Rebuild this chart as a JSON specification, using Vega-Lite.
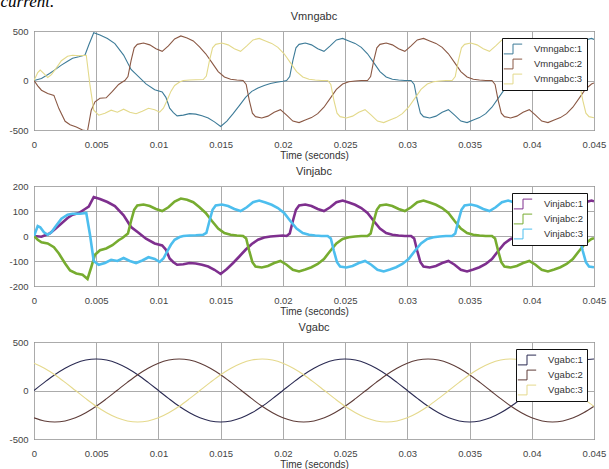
{
"$schema": "https://vega.github.io/schema/vega-lite/v6.json",
"padding": {"left": 0, "top": -8, "right": 0, "bottom": 0},
"background": "#ffffff",
"title": {"text": "current.", "anchor": "start", "frame": "bounds", "font": "Liberation Serif", "fontStyle": "italic", "fontSize": 17, "fontWeight": "normal", "color": "#000000", "offset": 0, "dx": -8},
"config": {
 "font": "Liberation Sans",
 "view": {"stroke": "#333333", "strokeWidth": 1},
 "axis": {"domain": false, "ticks": false, "grid": true, "gridColor": "#ababab", "gridWidth": 1, "labelFont": "Liberation Sans", "labelFontSize": 9.5, "labelColor": "#444444", "labelFlush": false, "labelOverlap": false, "titleFont": "Liberation Sans", "titleFontSize": 10, "titleFontWeight": "normal", "titleColor": "#333333"},
 "axisX": {"labelPadding": 9, "titlePadding": 2},
 "axisY": {"labelPadding": 6},
 "title": {"font": "Liberation Sans", "fontSize": 11, "fontWeight": "normal", "color": "#333333", "offset": 4},
 "legend": {"orient": "top-right", "offset": 7, "strokeColor": "#111111", "fillColor": "#ffffff", "padding": 4, "rowPadding": 1, "labelFont": "Liberation Sans", "labelFontSize": 9.5, "labelColor": "#333333", "labelOffset": 14, "symbolType": "M-1.5,0.8H0V-0.8H1.5", "symbolSize": 150, "symbolStrokeWidth": 1, "symbolFillColor": "transparent"}
},
"spacing": 4,
"resolve": {"scale": {"color": "independent"}, "legend": {"color": "independent"}},
"datasets": {
"inj": [
{"t":0,"p":"1","i":0,"m":0},{"t":0.0006,"p":"1","i":-3,"m":20},{"t":0.00125,"p":"1","i":10,"m":71},{"t":0.0017,"p":"1","i":28,"m":110},{"t":0.0022,"p":"1","i":50,"m":155},{"t":0.0027,"p":"1","i":72,"m":195},{"t":0.0031,"p":"1","i":85,"m":225},{"t":0.0036,"p":"1","i":92,"m":240},{"t":0.0041,"p":"1","i":108,"m":257},{"t":0.0044,"p":"1","i":118,"m":358},{"t":0.0048,"p":"1","i":156,"m":483},{"t":0.0053,"p":"1","i":148,"m":460},{"t":0.0059,"p":"1","i":136,"m":425},{"t":0.0065,"p":"1","i":120,"m":372},{"t":0.0072,"p":"1","i":83,"m":257},{"t":0.0078,"p":"1","i":36,"m":112},{"t":0.0084,"p":"1","i":13,"m":40},{"t":0.009,"p":"1","i":-11,"m":-34},{"t":0.0097,"p":"1","i":-30,"m":-93},{"t":0.0103,"p":"1","i":-38,"m":-115},{"t":0.0106,"p":"1","i":-55,"m":-170},{"t":0.0109,"p":"1","i":-90,"m":-280},{"t":0.0112,"p":"1","i":-105,"m":-325},{"t":0.0115,"p":"1","i":-115,"m":-357},{"t":0.012,"p":"1","i":-113,"m":-350},{"t":0.0125,"p":"1","i":-108,"m":-335},{"t":0.013,"p":"1","i":-110,"m":-340},{"t":0.0135,"p":"1","i":-115,"m":-357},{"t":0.014,"p":"1","i":-122,"m":-378},{"t":0.0145,"p":"1","i":-135,"m":-418},{"t":0.015,"p":"1","i":-152,"m":-465},{"t":0.0155,"p":"1","i":-132,"m":-410},{"t":0.016,"p":"1","i":-108,"m":-335},{"t":0.0165,"p":"1","i":-82,"m":-254},{"t":0.017,"p":"1","i":-55,"m":-170},{"t":0.0175,"p":"1","i":-32,"m":-110},{"t":0.018,"p":"1","i":-15,"m":-75},{"t":0.0185,"p":"1","i":-6,"m":-50},{"t":0.019,"p":"1","i":-2,"m":-30},{"t":0.0195,"p":"1","i":0,"m":-18},{"t":0.02,"p":"1","i":2,"m":-8},
{"t":0.0203,"p":"1","i":0,"m":0},{"t":0.02055,"p":"1","i":10,"m":40},{"t":0.0208,"p":"1","i":60,"m":200},{"t":0.02105,"p":"1","i":105,"m":330},{"t":0.0213,"p":"1","i":122,"m":365},{"t":0.0218,"p":"1","i":126,"m":378},{"t":0.0223,"p":"1","i":120,"m":360},{"t":0.0228,"p":"1","i":108,"m":320},{"t":0.0233,"p":"1","i":100,"m":295},{"t":0.0238,"p":"1","i":115,"m":350},{"t":0.0243,"p":"1","i":135,"m":410},{"t":0.0248,"p":"1","i":142,"m":425},{"t":0.0253,"p":"1","i":134,"m":400},{"t":0.0258,"p":"1","i":125,"m":375},{"t":0.0263,"p":"1","i":112,"m":335},{"t":0.0268,"p":"1","i":92,"m":270},{"t":0.0273,"p":"1","i":60,"m":180},{"t":0.0278,"p":"1","i":30,"m":90},{"t":0.0283,"p":"1","i":12,"m":35},{"t":0.0288,"p":"1","i":5,"m":12},{"t":0.0293,"p":"1","i":2,"m":5},{"t":0.0298,"p":"1","i":0,"m":0},
{"t":0.0303,"p":"1","i":0,"m":0},{"t":0.03055,"p":"1","i":-10,"m":-40},{"t":0.0308,"p":"1","i":-60,"m":-200},{"t":0.03105,"p":"1","i":-105,"m":-330},{"t":0.0313,"p":"1","i":-122,"m":-365},{"t":0.0318,"p":"1","i":-126,"m":-378},{"t":0.0323,"p":"1","i":-120,"m":-360},{"t":0.0328,"p":"1","i":-108,"m":-320},{"t":0.0333,"p":"1","i":-100,"m":-295},{"t":0.0338,"p":"1","i":-115,"m":-350},{"t":0.0343,"p":"1","i":-135,"m":-410},{"t":0.0348,"p":"1","i":-142,"m":-425},{"t":0.0353,"p":"1","i":-134,"m":-400},{"t":0.0358,"p":"1","i":-125,"m":-375},{"t":0.0363,"p":"1","i":-112,"m":-335},{"t":0.0368,"p":"1","i":-92,"m":-270},{"t":0.0373,"p":"1","i":-60,"m":-180},{"t":0.0378,"p":"1","i":-30,"m":-90},{"t":0.0383,"p":"1","i":-12,"m":-35},{"t":0.0388,"p":"1","i":-5,"m":-12},{"t":0.0393,"p":"1","i":-2,"m":-5},{"t":0.0398,"p":"1","i":0,"m":0},
{"t":0.0403,"p":"1","i":0,"m":0},{"t":0.04055,"p":"1","i":10,"m":40},{"t":0.0408,"p":"1","i":60,"m":200},{"t":0.04105,"p":"1","i":105,"m":330},{"t":0.0413,"p":"1","i":122,"m":365},{"t":0.0418,"p":"1","i":126,"m":378},{"t":0.0423,"p":"1","i":120,"m":360},{"t":0.0428,"p":"1","i":108,"m":320},{"t":0.0433,"p":"1","i":100,"m":295},{"t":0.0438,"p":"1","i":115,"m":350},{"t":0.0443,"p":"1","i":135,"m":410},{"t":0.0448,"p":"1","i":142,"m":425},{"t":0.045,"p":"1","i":139,"m":415},
{"t":0,"p":"2","i":0,"m":0},{"t":0.0003,"p":"2","i":-15,"m":-54},{"t":0.0006,"p":"2","i":-25,"m":-98},{"t":0.0011,"p":"2","i":-30,"m":-132},{"t":0.0016,"p":"2","i":-45,"m":-150},{"t":0.002,"p":"2","i":-70,"m":-284},{"t":0.0025,"p":"2","i":-110,"m":-412},{"t":0.0029,"p":"2","i":-138,"m":-446},{"t":0.0034,"p":"2","i":-150,"m":-470},{"t":0.0039,"p":"2","i":-155,"m":-500},{"t":0.0043,"p":"2","i":-172,"m":-510},{"t":0.0046,"p":"2","i":-125,"m":-300},{"t":0.0049,"p":"2","i":-75,"m":-216},{"t":0.0053,"p":"2","i":-57,"m":-180},{"t":0.0058,"p":"2","i":-50,"m":-175},{"t":0.0063,"p":"2","i":-37,"m":-110},{"t":0.0068,"p":"2","i":-17,"m":-40},{"t":0.0071,"p":"2","i":-8,"m":-15},
{"t":0.0073,"p":"2","i":0,"m":0},{"t":0.00755,"p":"2","i":10,"m":40},{"t":0.0078,"p":"2","i":60,"m":200},{"t":0.00805,"p":"2","i":105,"m":330},{"t":0.0083,"p":"2","i":122,"m":365},{"t":0.0088,"p":"2","i":126,"m":378},{"t":0.0093,"p":"2","i":120,"m":360},{"t":0.0098,"p":"2","i":108,"m":320},{"t":0.0103,"p":"2","i":100,"m":295},{"t":0.0108,"p":"2","i":115,"m":350},{"t":0.0113,"p":"2","i":138,"m":420},{"t":0.0118,"p":"2","i":150,"m":450},{"t":0.0123,"p":"2","i":145,"m":430},{"t":0.0128,"p":"2","i":135,"m":400},{"t":0.0133,"p":"2","i":115,"m":340},{"t":0.0138,"p":"2","i":92,"m":270},{"t":0.0143,"p":"2","i":60,"m":180},{"t":0.0148,"p":"2","i":30,"m":90},{"t":0.0153,"p":"2","i":12,"m":35},{"t":0.0158,"p":"2","i":5,"m":12},{"t":0.0163,"p":"2","i":2,"m":5},
{"t":0.0168,"p":"2","i":0,"m":0},{"t":0.01705,"p":"2","i":-10,"m":-40},{"t":0.0173,"p":"2","i":-60,"m":-200},{"t":0.01755,"p":"2","i":-105,"m":-330},{"t":0.0178,"p":"2","i":-122,"m":-365},{"t":0.0183,"p":"2","i":-126,"m":-378},{"t":0.0188,"p":"2","i":-120,"m":-360},{"t":0.0193,"p":"2","i":-108,"m":-320},{"t":0.0198,"p":"2","i":-100,"m":-295},{"t":0.0203,"p":"2","i":-115,"m":-350},{"t":0.0208,"p":"2","i":-135,"m":-410},{"t":0.0213,"p":"2","i":-142,"m":-425},{"t":0.0218,"p":"2","i":-134,"m":-400},{"t":0.0223,"p":"2","i":-125,"m":-375},{"t":0.0228,"p":"2","i":-112,"m":-335},{"t":0.0233,"p":"2","i":-92,"m":-270},{"t":0.0238,"p":"2","i":-60,"m":-180},{"t":0.0243,"p":"2","i":-30,"m":-90},{"t":0.0248,"p":"2","i":-12,"m":-35},{"t":0.0253,"p":"2","i":-5,"m":-12},{"t":0.0258,"p":"2","i":-2,"m":-5},{"t":0.0263,"p":"2","i":0,"m":0},
{"t":0.0268,"p":"2","i":0,"m":0},{"t":0.02705,"p":"2","i":10,"m":40},{"t":0.0273,"p":"2","i":60,"m":200},{"t":0.02755,"p":"2","i":105,"m":330},{"t":0.0278,"p":"2","i":122,"m":365},{"t":0.0283,"p":"2","i":126,"m":378},{"t":0.0288,"p":"2","i":120,"m":360},{"t":0.0293,"p":"2","i":108,"m":320},{"t":0.0298,"p":"2","i":100,"m":295},{"t":0.0303,"p":"2","i":115,"m":350},{"t":0.0308,"p":"2","i":135,"m":410},{"t":0.0313,"p":"2","i":142,"m":425},{"t":0.0318,"p":"2","i":134,"m":400},{"t":0.0323,"p":"2","i":125,"m":375},{"t":0.0328,"p":"2","i":112,"m":335},{"t":0.0333,"p":"2","i":92,"m":270},{"t":0.0338,"p":"2","i":60,"m":180},{"t":0.0343,"p":"2","i":30,"m":90},{"t":0.0348,"p":"2","i":12,"m":35},{"t":0.0353,"p":"2","i":5,"m":12},{"t":0.0358,"p":"2","i":2,"m":5},{"t":0.0363,"p":"2","i":0,"m":0},
{"t":0.0368,"p":"2","i":0,"m":0},{"t":0.03705,"p":"2","i":-10,"m":-40},{"t":0.0373,"p":"2","i":-60,"m":-200},{"t":0.03755,"p":"2","i":-105,"m":-330},{"t":0.0378,"p":"2","i":-122,"m":-365},{"t":0.0383,"p":"2","i":-126,"m":-378},{"t":0.0388,"p":"2","i":-120,"m":-360},{"t":0.0393,"p":"2","i":-108,"m":-320},{"t":0.0398,"p":"2","i":-100,"m":-295},{"t":0.0403,"p":"2","i":-115,"m":-350},{"t":0.0408,"p":"2","i":-135,"m":-410},{"t":0.0413,"p":"2","i":-142,"m":-425},{"t":0.0418,"p":"2","i":-134,"m":-400},{"t":0.0423,"p":"2","i":-125,"m":-375},{"t":0.0428,"p":"2","i":-112,"m":-335},{"t":0.0433,"p":"2","i":-92,"m":-270},{"t":0.0438,"p":"2","i":-60,"m":-180},{"t":0.0443,"p":"2","i":-30,"m":-90},{"t":0.0448,"p":"2","i":-12,"m":-35},{"t":0.045,"p":"2","i":-9,"m":-25},
{"t":0,"p":"3","i":0,"m":0},{"t":0.0003,"p":"3","i":40,"m":80},{"t":0.0005,"p":"3","i":35,"m":105},{"t":0.0008,"p":"3","i":15,"m":70},{"t":0.0011,"p":"3","i":5,"m":30},{"t":0.0014,"p":"3","i":15,"m":60},{"t":0.0017,"p":"3","i":36,"m":110},{"t":0.0022,"p":"3","i":69,"m":200},{"t":0.0027,"p":"3","i":85,"m":245},{"t":0.0031,"p":"3","i":89,"m":255},{"t":0.0037,"p":"3","i":89,"m":250},{"t":0.0042,"p":"3","i":92,"m":255},{"t":0.0045,"p":"3","i":5,"m":-50},{"t":0.0048,"p":"3","i":-100,"m":-300},{"t":0.0052,"p":"3","i":-115,"m":-350},{"t":0.0057,"p":"3","i":-108,"m":-330},{"t":0.0062,"p":"3","i":-95,"m":-300},{"t":0.0067,"p":"3","i":-100,"m":-320},{"t":0.0072,"p":"3","i":-88,"m":-290},{"t":0.0077,"p":"3","i":-100,"m":-320},{"t":0.0082,"p":"3","i":-108,"m":-335},{"t":0.0087,"p":"3","i":-98,"m":-310},{"t":0.0092,"p":"3","i":-85,"m":-280},{"t":0.0097,"p":"3","i":-92,"m":-295},{"t":0.0101,"p":"3","i":-104,"m":-320},{"t":0.0104,"p":"3","i":-90,"m":-280},{"t":0.0107,"p":"3","i":-62,"m":-200},{"t":0.011,"p":"3","i":-35,"m":-110},{"t":0.0113,"p":"3","i":-15,"m":-50},{"t":0.0117,"p":"3","i":-4,"m":-15},{"t":0.012,"p":"3","i":0,"m":0},{"t":0.0125,"p":"3","i":2,"m":5},{"t":0.013,"p":"3","i":3,"m":8},
{"t":0.0136,"p":"3","i":5,"m":10},{"t":0.01385,"p":"3","i":12,"m":45},{"t":0.0141,"p":"3","i":60,"m":200},{"t":0.01435,"p":"3","i":105,"m":330},{"t":0.0146,"p":"3","i":122,"m":365},{"t":0.0151,"p":"3","i":126,"m":378},{"t":0.0156,"p":"3","i":120,"m":360},{"t":0.0161,"p":"3","i":108,"m":320},{"t":0.0166,"p":"3","i":100,"m":295},{"t":0.0171,"p":"3","i":115,"m":350},{"t":0.0176,"p":"3","i":135,"m":410},{"t":0.0181,"p":"3","i":142,"m":425},{"t":0.0186,"p":"3","i":134,"m":400},{"t":0.0191,"p":"3","i":125,"m":375},{"t":0.0196,"p":"3","i":112,"m":335},{"t":0.0201,"p":"3","i":92,"m":270},{"t":0.0206,"p":"3","i":60,"m":180},{"t":0.0211,"p":"3","i":30,"m":90},{"t":0.0216,"p":"3","i":12,"m":35},{"t":0.0221,"p":"3","i":5,"m":12},{"t":0.0226,"p":"3","i":2,"m":5},{"t":0.0231,"p":"3","i":0,"m":0},
{"t":0.0236,"p":"3","i":0,"m":0},{"t":0.02385,"p":"3","i":-10,"m":-40},{"t":0.0241,"p":"3","i":-60,"m":-200},{"t":0.02435,"p":"3","i":-105,"m":-330},{"t":0.0246,"p":"3","i":-122,"m":-365},{"t":0.0251,"p":"3","i":-126,"m":-378},{"t":0.0256,"p":"3","i":-120,"m":-360},{"t":0.0261,"p":"3","i":-108,"m":-320},{"t":0.0266,"p":"3","i":-100,"m":-295},{"t":0.0271,"p":"3","i":-115,"m":-350},{"t":0.0276,"p":"3","i":-135,"m":-410},{"t":0.0281,"p":"3","i":-142,"m":-425},{"t":0.0286,"p":"3","i":-134,"m":-400},{"t":0.0291,"p":"3","i":-125,"m":-375},{"t":0.0296,"p":"3","i":-112,"m":-335},{"t":0.0301,"p":"3","i":-92,"m":-270},{"t":0.0306,"p":"3","i":-60,"m":-180},{"t":0.0311,"p":"3","i":-30,"m":-90},{"t":0.0316,"p":"3","i":-12,"m":-35},{"t":0.0321,"p":"3","i":-5,"m":-12},{"t":0.0326,"p":"3","i":-2,"m":-5},{"t":0.0331,"p":"3","i":0,"m":0},
{"t":0.0336,"p":"3","i":0,"m":0},{"t":0.03385,"p":"3","i":10,"m":40},{"t":0.0341,"p":"3","i":60,"m":200},{"t":0.03435,"p":"3","i":105,"m":330},{"t":0.0346,"p":"3","i":122,"m":365},{"t":0.0351,"p":"3","i":126,"m":378},{"t":0.0356,"p":"3","i":120,"m":360},{"t":0.0361,"p":"3","i":108,"m":320},{"t":0.0366,"p":"3","i":100,"m":295},{"t":0.0371,"p":"3","i":115,"m":350},{"t":0.0376,"p":"3","i":135,"m":410},{"t":0.0381,"p":"3","i":142,"m":425},{"t":0.0386,"p":"3","i":134,"m":400},{"t":0.0391,"p":"3","i":125,"m":375},{"t":0.0396,"p":"3","i":112,"m":335},{"t":0.0401,"p":"3","i":92,"m":270},{"t":0.0406,"p":"3","i":60,"m":180},{"t":0.0411,"p":"3","i":30,"m":90},{"t":0.0416,"p":"3","i":12,"m":35},{"t":0.0421,"p":"3","i":5,"m":12},{"t":0.0426,"p":"3","i":2,"m":5},{"t":0.0431,"p":"3","i":0,"m":0},
{"t":0.0436,"p":"3","i":0,"m":0},{"t":0.04385,"p":"3","i":-10,"m":-40},{"t":0.0441,"p":"3","i":-60,"m":-200},{"t":0.04435,"p":"3","i":-105,"m":-330},{"t":0.0446,"p":"3","i":-122,"m":-365},{"t":0.045,"p":"3","i":-125,"m":-376}
],
"grid": [
{"t":0,"Vgabc:1":0,"Vgabc:2":-282,"Vgabc:3":282},
{"t":0.000833,"Vgabc:1":84,"Vgabc:2":-314,"Vgabc:3":230},
{"t":0.001667,"Vgabc:1":163,"Vgabc:2":-325,"Vgabc:3":163},
{"t":0.0025,"Vgabc:1":230,"Vgabc:2":-314,"Vgabc:3":84},
{"t":0.003333,"Vgabc:1":282,"Vgabc:2":-282,"Vgabc:3":0},
{"t":0.004167,"Vgabc:1":314,"Vgabc:2":-230,"Vgabc:3":-84},
{"t":0.005,"Vgabc:1":325,"Vgabc:2":-163,"Vgabc:3":-163},
{"t":0.005833,"Vgabc:1":314,"Vgabc:2":-84,"Vgabc:3":-230},
{"t":0.006667,"Vgabc:1":282,"Vgabc:2":0,"Vgabc:3":-282},
{"t":0.0075,"Vgabc:1":230,"Vgabc:2":84,"Vgabc:3":-314},
{"t":0.008333,"Vgabc:1":163,"Vgabc:2":163,"Vgabc:3":-325},
{"t":0.009167,"Vgabc:1":84,"Vgabc:2":230,"Vgabc:3":-314},
{"t":0.01,"Vgabc:1":0,"Vgabc:2":282,"Vgabc:3":-282},
{"t":0.010833,"Vgabc:1":-84,"Vgabc:2":314,"Vgabc:3":-230},
{"t":0.011667,"Vgabc:1":-163,"Vgabc:2":325,"Vgabc:3":-163},
{"t":0.0125,"Vgabc:1":-230,"Vgabc:2":314,"Vgabc:3":-84},
{"t":0.013333,"Vgabc:1":-282,"Vgabc:2":282,"Vgabc:3":0},
{"t":0.014167,"Vgabc:1":-314,"Vgabc:2":230,"Vgabc:3":84},
{"t":0.015,"Vgabc:1":-325,"Vgabc:2":163,"Vgabc:3":163},
{"t":0.015833,"Vgabc:1":-314,"Vgabc:2":84,"Vgabc:3":230},
{"t":0.016667,"Vgabc:1":-282,"Vgabc:2":0,"Vgabc:3":282},
{"t":0.0175,"Vgabc:1":-230,"Vgabc:2":-84,"Vgabc:3":314},
{"t":0.018333,"Vgabc:1":-163,"Vgabc:2":-163,"Vgabc:3":325},
{"t":0.019167,"Vgabc:1":-84,"Vgabc:2":-230,"Vgabc:3":314},
{"t":0.02,"Vgabc:1":0,"Vgabc:2":-282,"Vgabc:3":282},
{"t":0.020833,"Vgabc:1":84,"Vgabc:2":-314,"Vgabc:3":230},
{"t":0.021667,"Vgabc:1":163,"Vgabc:2":-325,"Vgabc:3":163},
{"t":0.0225,"Vgabc:1":230,"Vgabc:2":-314,"Vgabc:3":84},
{"t":0.023333,"Vgabc:1":282,"Vgabc:2":-282,"Vgabc:3":0},
{"t":0.024167,"Vgabc:1":314,"Vgabc:2":-230,"Vgabc:3":-84},
{"t":0.025,"Vgabc:1":325,"Vgabc:2":-163,"Vgabc:3":-163},
{"t":0.025833,"Vgabc:1":314,"Vgabc:2":-84,"Vgabc:3":-230},
{"t":0.026667,"Vgabc:1":282,"Vgabc:2":0,"Vgabc:3":-282},
{"t":0.0275,"Vgabc:1":230,"Vgabc:2":84,"Vgabc:3":-314},
{"t":0.028333,"Vgabc:1":163,"Vgabc:2":163,"Vgabc:3":-325},
{"t":0.029167,"Vgabc:1":84,"Vgabc:2":230,"Vgabc:3":-314},
{"t":0.03,"Vgabc:1":0,"Vgabc:2":282,"Vgabc:3":-282},
{"t":0.030833,"Vgabc:1":-84,"Vgabc:2":314,"Vgabc:3":-230},
{"t":0.031667,"Vgabc:1":-163,"Vgabc:2":325,"Vgabc:3":-163},
{"t":0.0325,"Vgabc:1":-230,"Vgabc:2":314,"Vgabc:3":-84},
{"t":0.033333,"Vgabc:1":-282,"Vgabc:2":282,"Vgabc:3":0},
{"t":0.034167,"Vgabc:1":-314,"Vgabc:2":230,"Vgabc:3":84},
{"t":0.035,"Vgabc:1":-325,"Vgabc:2":163,"Vgabc:3":163},
{"t":0.035833,"Vgabc:1":-314,"Vgabc:2":84,"Vgabc:3":230},
{"t":0.036667,"Vgabc:1":-282,"Vgabc:2":0,"Vgabc:3":282},
{"t":0.0375,"Vgabc:1":-230,"Vgabc:2":-84,"Vgabc:3":314},
{"t":0.038333,"Vgabc:1":-163,"Vgabc:2":-163,"Vgabc:3":325},
{"t":0.039167,"Vgabc:1":-84,"Vgabc:2":-230,"Vgabc:3":314},
{"t":0.04,"Vgabc:1":0,"Vgabc:2":-282,"Vgabc:3":282},
{"t":0.040833,"Vgabc:1":84,"Vgabc:2":-314,"Vgabc:3":230},
{"t":0.041667,"Vgabc:1":163,"Vgabc:2":-325,"Vgabc:3":163},
{"t":0.0425,"Vgabc:1":230,"Vgabc:2":-314,"Vgabc:3":84},
{"t":0.043333,"Vgabc:1":282,"Vgabc:2":-282,"Vgabc:3":0},
{"t":0.044167,"Vgabc:1":314,"Vgabc:2":-230,"Vgabc:3":-84},
{"t":0.045,"Vgabc:1":325,"Vgabc:2":-163,"Vgabc:3":-163}
]
},
"vconcat": [
{
 "title": {"text": "Vmngabc"},
 "width": 560, "height": 99,
 "data": {"name": "inj"},
 "mark": {"type": "line", "strokeWidth": 1.1, "clip": true},
 "encoding": {
  "x": {"field": "t", "type": "quantitative", "scale": {"domain": [0, 0.045], "nice": false, "zero": false}, "axis": {"values": [0,0.005,0.01,0.015,0.02,0.025,0.03,0.035,0.04,0.045], "labelExpr": "'' + datum.value", "title": "Time (seconds)"}},
  "y": {"field": "m", "type": "quantitative", "scale": {"domain": [-500, 500], "nice": false}, "axis": {"values": [-500, 0, 500], "labelExpr": "'' + datum.value", "title": null}},
  "color": {"field": "p", "type": "nominal", "scale": {"domain": ["1","2","3"], "range": ["#3d7b98", "#8a5844", "#e3d98a"]}, "legend": {"title": null, "labelExpr": "'Vmngabc:' + datum.label"}}
 }
},
{
 "title": {"text": "Vinjabc"},
 "width": 560, "height": 100,
 "data": {"name": "inj"},
 "mark": {"type": "line", "strokeWidth": 2.6, "clip": true},
 "encoding": {
  "x": {"field": "t", "type": "quantitative", "scale": {"domain": [0, 0.045], "nice": false, "zero": false}, "axis": {"values": [0,0.005,0.01,0.015,0.02,0.025,0.03,0.035,0.04,0.045], "labelExpr": "'' + datum.value", "title": "Time (seconds)"}},
  "y": {"field": "i", "type": "quantitative", "scale": {"domain": [-200, 200], "nice": false}, "axis": {"values": [-200, -100, 0, 100, 200], "labelExpr": "'' + datum.value", "title": null}},
  "color": {"field": "p", "type": "nominal", "scale": {"domain": ["1","2","3"], "range": ["#7e2f8e", "#77ac30", "#4dbeee"]}, "legend": {"title": null, "labelExpr": "'Vinjabc:' + datum.label"}}
 }
},
{
 "title": {"text": "Vgabc"},
 "width": 560, "height": 97,
 "data": {"name": "grid"},
 "transform": [{"fold": ["Vgabc:1", "Vgabc:2", "Vgabc:3"], "as": ["p", "g"]}],
 "mark": {"type": "line", "strokeWidth": 1.1, "clip": true, "interpolate": "monotone"},
 "encoding": {
  "x": {"field": "t", "type": "quantitative", "scale": {"domain": [0, 0.045], "nice": false, "zero": false}, "axis": {"values": [0,0.005,0.01,0.015,0.02,0.025,0.03,0.035,0.04,0.045], "labelExpr": "'' + datum.value", "title": "Time (seconds)"}},
  "y": {"field": "g", "type": "quantitative", "scale": {"domain": [-500, 500], "nice": false}, "axis": {"values": [-500, 0, 500], "labelExpr": "'' + datum.value", "title": null}},
  "color": {"field": "p", "type": "nominal", "scale": {"domain": ["Vgabc:1","Vgabc:2","Vgabc:3"], "range": ["#2a2a52", "#5e3c38", "#e5d98c"]}, "legend": {"title": null}}
 }
}
]
}
